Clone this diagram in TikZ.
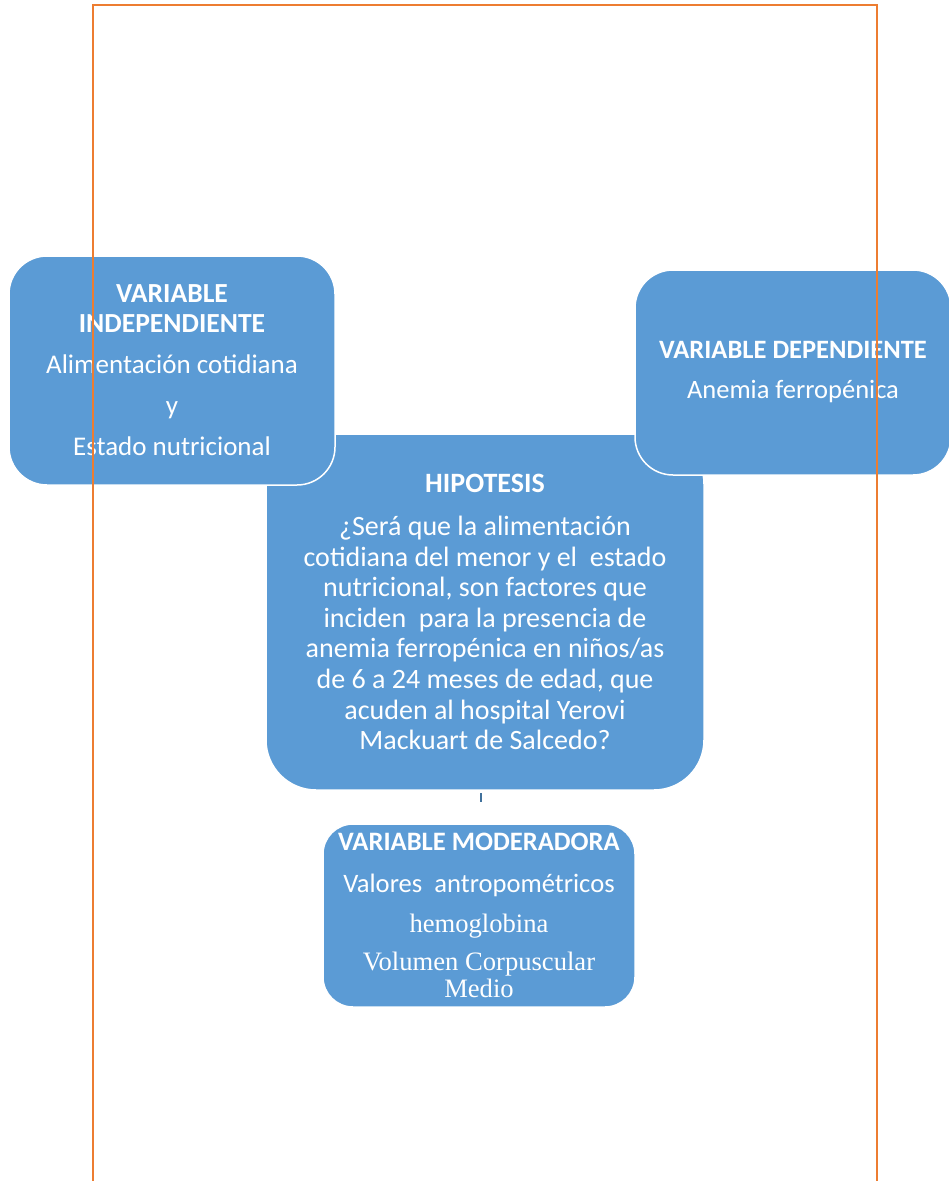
\documentclass[tikz,border=0pt]{standalone}
\usepackage{fontspec}
\setmainfont{Carlito}
\newfontfamily\tnr{Liberation Serif}
\definecolor{boxblue}{HTML}{5B9BD5}
\definecolor{pageorange}{HTML}{ED7D31}
\definecolor{tickblue}{HTML}{41719C}
\begin{document}
\begin{tikzpicture}[x=1pt,y=-1pt,
  box/.style={rectangle, fill=boxblue, draw=white, line width=1.5pt, text=white, align=center, inner sep=0pt},
  pageline/.style={draw=pageorange, line width=2pt},
  stub/.style={draw=tickblue, line width=2pt}]
\useasboundingbox (0,0) rectangle (949,1181);
% hypothesis (drawn first, lies beneath side boxes)
\node[box, rounded corners=50pt, minimum width=438pt, minimum height=356pt,
      font={\fontsize{28}{30.6}\selectfont}] (hyp) at (485,612)
  {\textbf{HIPOTESIS}\\[12.4pt]
   ¿Será que la alimentación\\
   cotidiana del menor y el\ \ estado\\
   nutricional, son factores que\\
   inciden\ \ para la presencia de\\
   anemia ferropénica en niños/as\\
   de 6 a 24 meses de edad, que\\
   acuden al hospital Yerovi\\
   Mackuart de Salcedo?};
\node[box, rounded corners=38pt, minimum width=326pt, minimum height=229pt,
      font={\fontsize{27}{30}\selectfont}] (ind) at (172,370.5)
  {{\fontsize{27.6}{30}\selectfont\textbf{VARIABLE}}\\
   {\fontsize{27.6}{30}\selectfont\textbf{INDEPENDIENTE}}\\[11pt]
   Alimentación cotidiana\\[11pt]
   y\\[11pt]
   Estado nutricional};
\node[box, rounded corners=38pt, minimum width=316pt, minimum height=205pt,
      font={\fontsize{26.5}{40}\selectfont}] (dep) at (793,372.5)
  {\textbf{VARIABLE DEPENDIENTE}\\
   Anemia ferropénica};
\node[box, rounded corners=30pt, minimum width=312pt, minimum height=183pt,
      font={\fontsize{26.6}{40}\selectfont}] (mod) at (479,915.5)
  {\textbf{VARIABLE MODERADORA}\\[2pt]
   Valores\ \ antropométricos\\
   {\tnr hemoglobina}\\[-2pt]
   {\tnr Volumen Corpuscular}\\[-13pt]
   {\tnr Medio}};
% short stub below the hypothesis
\coordinate (s1) at (481,793);
\coordinate (s2) at (481,802);
\draw[stub] (s1) -- (s2);
% orange page frame
\coordinate (p1) at (93,1181);
\coordinate (p2) at (93,5);
\coordinate (p3) at (877,5);
\coordinate (p4) at (877,1181);
\draw[pageline] (p1) -- (p2) -- (p3) -- (p4);
\end{tikzpicture}
\end{document}
